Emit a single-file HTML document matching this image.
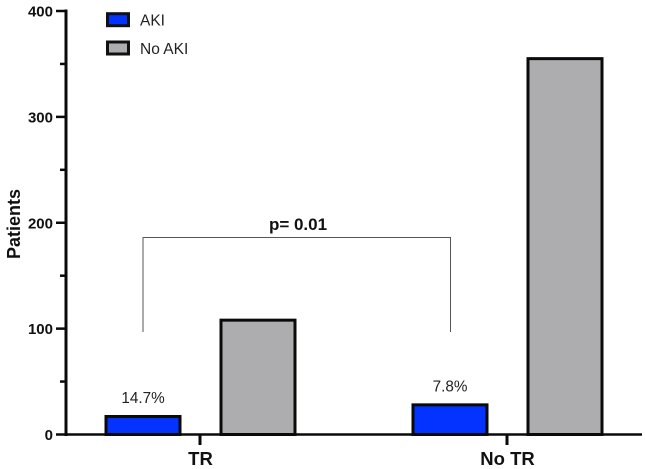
<!DOCTYPE html>
<html>
<head>
<meta charset="utf-8">
<style>
html,body{margin:0;padding:0;background:#fff;}
svg{display:block;font-family:"Liberation Sans",sans-serif;filter:blur(0.35px);}
</style>
</head>
<body>
<svg id="chart" width="645" height="469" viewBox="0 0 645 469" xmlns="http://www.w3.org/2000/svg"></svg>
<script>
const categories = ["TR", "No TR"];
const seriesNames = ["AKI", "No AKI"];
const akiValues = [17, 28];
const noAkiValues = [108, 355];
const percentLabels = ["14.7%", "7.8%"];
const yTicks = [0, 100, 200, 300, 400];
const yMinorTicks = [50, 150, 250, 350];
const seriesColors = ["#0433ff", "#adadb0"];
const bracketLabel = "p= 0.01";

const svg = document.getElementById('chart');
function yScale(v) { return 434.5 - v * (423.5 / 400); }
function xCenter(i) { return 200 + i * 307; }
function add(tag, attrs, text) {
  const el = document.createElementNS('http://www.w3.org/2000/svg', tag);
  for (const k in attrs) el.setAttribute(k, attrs[k]);
  if (text !== undefined) el.textContent = text;
  svg.appendChild(el);
  return el;
}
const barWidth = 74;
const offsets = [-57, 58];

// Bars
categories.forEach((c, i) => {
  [akiValues, noAkiValues].forEach((vals, s) => {
    const top = yScale(vals[i]);
    const cx = xCenter(i) + offsets[s];
    const r = add('rect', {x: cx - barWidth / 2, y: top, width: barWidth, height: yScale(0) - top, fill: seriesColors[s], stroke: '#0a0a0a', 'stroke-width': 3});
    
    
  });
  const lbl = add('text', {x: xCenter(i) + offsets[0], y: yScale(akiValues[i]) - 13.5, 'text-anchor': 'middle', 'font-size': 15.3, fill: '#222'}, percentLabels[i]);
  
  
});

// Y axis
const yAxis = add('line', {x1: 66, x2: 66, y1: yScale(400) - 1.5, y2: yScale(0) + 1.5, stroke: '#0a0a0a', 'stroke-width': 3});


yTicks.forEach(t => {
  const tk = add('line', {x1: 56, x2: 66, y1: yScale(t), y2: yScale(t), stroke: '#0a0a0a', 'stroke-width': 2.5});
  
  
  const tl = add('text', {x: 53, y: yScale(t) + 5.5, 'text-anchor': 'end', 'font-size': 15, 'font-weight': 'bold', fill: '#111'}, String(t));
  
  
});
yMinorTicks.forEach(t => {
  const tk = add('line', {x1: 60, x2: 66, y1: yScale(t), y2: yScale(t), stroke: '#0a0a0a', 'stroke-width': 2.5});
  
  
});

// X axis
const xAxis = add('line', {x1: 65, x2: 642, y1: yScale(0), y2: yScale(0), stroke: '#0a0a0a', 'stroke-width': 2.5});


categories.forEach((c, i) => {
  const tk = add('line', {x1: xCenter(i), x2: xCenter(i), y1: yScale(0), y2: 445, stroke: '#0a0a0a', 'stroke-width': 3});
  
  
  const tl = add('text', {x: xCenter(i) + 0.5, y: 465, 'text-anchor': 'middle', 'font-size': 18.5, 'font-weight': 'bold', fill: '#111'}, c);
  
  
});

// Y title
const yTitle = add('text', {x: 0, y: 0, transform: 'translate(20,224) rotate(-90)', 'text-anchor': 'middle', 'font-size': 18, 'font-weight': 'bold', fill: '#111'}, 'Patients');



// Significance bracket
const bracket = add('path', {d: 'M143 332V237.5H450.5V332', fill: 'none', stroke: '#555', 'stroke-width': 1});


const pLabel = add('text', {x: 298, y: 230, 'text-anchor': 'middle', 'font-size': 17, 'font-weight': 'bold', fill: '#111'}, bracketLabel);



// Legend
seriesNames.forEach((n, i) => {
  const ly = 19.7 + i * 28.3;
  const sw = add('rect', {x: 107.5, y: ly - 6, width: 21, height: 12, fill: seriesColors[i], stroke: '#111', 'stroke-width': 3});
  
  
  const lt = add('text', {x: 140, y: ly + 6, 'font-size': 15.5, fill: '#222'}, n);
  
  
});
</script>
</body>
</html>
